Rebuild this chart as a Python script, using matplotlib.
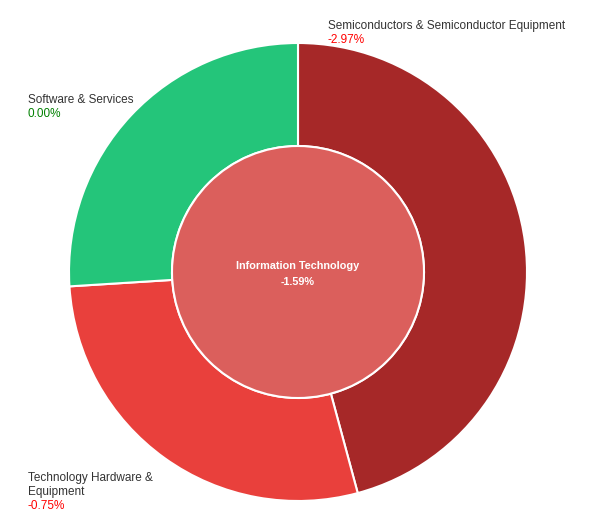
import matplotlib
matplotlib.use('Agg')
import matplotlib.pyplot as plt
from matplotlib.patches import Circle

plt.rcParams['font.family'] = ['Liberation Sans', 'DejaVu Sans']

sectors = ['Semiconductors & Semiconductor Equipment',
           'Technology Hardware &\nEquipment',
           'Software & Services']
weights = [45.8, 28.2, 26.0]
changes = [-2.97, -0.75, 0.00]
colors = ['#a62828', '#e9403c', '#24c57a']

center_name = 'Information Technology'
center_change = -1.59

H = 520
fig = plt.figure(figsize=(6, 5.2), dpi=100)
ax = fig.add_axes([0, 0, 1, 1])

cx, cy = 298, H - 272
ax.pie(weights, colors=colors, startangle=90, counterclock=False,
       radius=229, center=(cx, cy), frame=True,
       wedgeprops=dict(width=103, edgecolor='white', linewidth=1.5))
ax.add_patch(Circle((cx, cy), 126, facecolor='#db5f5c', edgecolor='white', linewidth=1.5))
ax.set_xlim(0, 600)
ax.set_ylim(0, H)
ax.set_aspect('equal')
ax.axis('off')

ax.text(cx, H - 269, center_name, color='white', fontsize=7.8, fontweight='bold',
        ha='center', va='baseline')
ax.text(cx, H - 285, f'{center_change:.2f}%', color='white', fontsize=7.8,
        fontweight='bold', ha='center', va='baseline')


def pct_color(v):
    return '#ff0000' if v < 0 else '#008000'


# x and first-line baseline (pixels from top) for each label
label_pos = [(328, 29), (28, 481), (28, 103)]
for name, ch, (lx, ly) in zip(sectors, changes, label_pos):
    lines = name.split('\n')
    for i, line in enumerate(lines):
        ax.text(lx, H - (ly + 14 * i), line, color='#333333', fontsize=8.5,
                ha='left', va='baseline')
    ax.text(lx, H - (ly + 14 * len(lines)), f'{ch:.2f}%', color=pct_color(ch),
            fontsize=8.5, ha='left', va='baseline')

fig.savefig('out.png', dpi=100)
